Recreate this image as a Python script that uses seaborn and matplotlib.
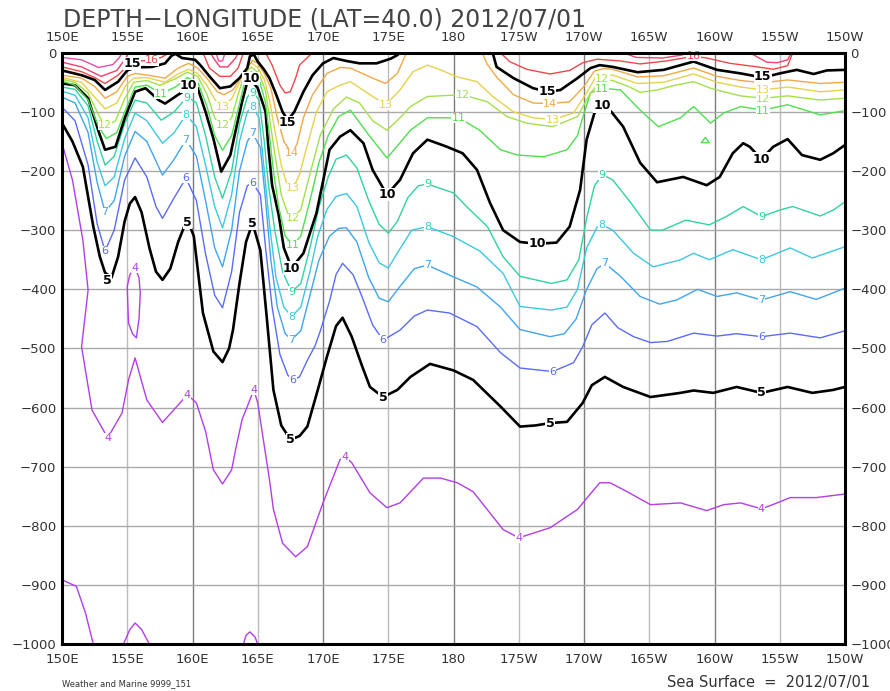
import matplotlib
matplotlib.use("Agg")
import matplotlib.pyplot as plt
import pandas as pd
import seaborn as sns

# 軸の目盛り
lon_ticks = [150, 155, 160, 165, 170, 175, 180, 185, 190, 195, 200, 205, 210]
lon_labels = ["150E", "155E", "160E", "165E", "170E", "175E", "180",
              "175W", "170W", "165W", "160W", "155W", "150W"]
depth_ticks = [0, 100, 200, 300, 400, 500, 600, 700, 800, 900, 1000]
depth_labels = ["0"] + ["\u2212%d" % d for d in depth_ticks[1:]]

# 等温線 (経度[度E], 深さ[m]) 絵から読み取り
iso_4 = [
    [(150, 153), (150.8, 215), (151.6, 317), (152.0, 401), (151.5, 497), (152.3, 604), (153.5, 651),
     (154.6, 609), (155.1, 553), (155.6, 516), (156.5, 587), (157.7, 625), (158.8, 598), (159.6, 578),
     (160.3, 592), (161.0, 640), (161.6, 705), (162.3, 729), (163.0, 705), (163.3, 671), (163.8, 620),
     (164.2, 598), (164.7, 570), (165.0, 592), (165.4, 650), (165.9, 722), (166.2, 772), (166.9, 829),
     (167.9, 852), (168.8, 835), (170.0, 761), (171.3, 688), (171.7, 683), (172.2, 693), (173.6, 744),
     (174.9, 769), (175.9, 761), (177.7, 719), (179.0, 719), (180.3, 727), (181.5, 742), (183.8, 806),
     (185.0, 820), (187.4, 803), (189.5, 772), (191.2, 727), (192.0, 727), (193.3, 742), (195.1, 764),
     (197.4, 761), (199.4, 774), (200.7, 764), (202.0, 761), (203.6, 771), (204.8, 761), (205.8, 752),
     (207.8, 752), (210.0, 746)],
    [(155.6, 364), (155.2, 375), (155.0, 395), (155.05, 430), (155.1, 457), (155.4, 475), (155.7, 482),
     (155.9, 450), (156.0, 406), (155.9, 380), (155.6, 364)],
    [(150, 891), (151.1, 902), (151.8, 947), (152.4, 1000)],
    [(154.7, 1000), (155.2, 975), (155.6, 964), (156.1, 975), (156.7, 1000)],
    [(163.9, 1000), (164.1, 985), (164.4, 979), (164.8, 988), (165.0, 1000)],
]
iso_5 = [
    [(150, 119), (150.8, 150), (151.6, 193), (152.4, 294), (152.9, 345), (153.3, 372), (153.8, 380),
     (154.3, 345), (154.8, 285), (155.2, 255), (155.6, 244), (156.1, 270), (156.7, 330), (157.2, 370),
     (157.7, 384), (158.3, 365), (158.9, 320), (159.4, 292), (159.7, 287), (160.1, 310), (160.8, 440),
     (161.6, 505), (162.3, 523), (162.8, 500), (163.1, 469), (163.6, 390), (164.1, 320), (164.6, 288),
     (165.2, 334), (165.7, 450), (166.2, 570), (166.8, 630), (167.5, 654), (168.2, 648), (168.8, 632),
     (169.6, 570), (170.3, 514), (171.0, 462), (171.5, 448), (172.2, 480), (173.0, 530), (173.6, 565),
     (174.6, 582), (175.7, 570), (176.7, 548), (178.2, 526), (180.0, 537), (181.5, 553), (183.6, 598),
     (185.1, 632), (186.3, 630), (187.4, 626), (188.7, 624), (189.9, 592), (190.6, 562), (191.6, 548),
     (193.0, 565), (195.1, 582), (197.4, 575), (198.4, 571), (199.9, 575), (201.7, 565), (203.6, 575),
     (205.6, 565), (207.5, 575), (209.1, 570), (210.0, 565)],
]
iso_6 = [
    [(150, 92), (151, 115), (152, 190), (152.7, 290), (153.3, 335), (154.0, 300), (154.8, 215),
     (155.6, 178), (156.5, 210), (157.2, 260), (157.7, 280), (158.6, 245), (159.5, 212), (160.3, 250),
     (161.0, 340), (161.7, 410), (162.3, 431), (163.0, 370), (163.6, 270), (164.2, 225), (164.6, 220),
     (165.2, 240), (165.6, 330), (166.1, 430), (166.7, 510), (167.3, 545), (167.7, 553), (168.2, 548),
     (168.8, 520), (169.4, 495), (169.8, 470), (170.5, 420), (171.0, 375), (171.5, 356), (172.3, 375),
     (173.0, 413), (173.8, 460), (174.6, 486), (175.9, 469), (177.0, 445), (178.0, 435), (179.7, 440),
     (181.8, 463), (183.6, 507), (185.1, 533), (187.6, 539), (189.2, 524), (189.9, 497), (190.6, 460),
     (191.6, 440), (192.6, 465), (193.8, 480), (195.1, 490), (196.4, 488), (198.4, 474), (200.2, 479),
     (201.7, 475), (203.6, 480), (205.8, 474), (208.1, 482), (210, 470)],
]
iso_7 = [
    [(150, 75), (151, 85), (152, 135), (152.7, 220), (153.3, 269), (154.0, 250), (154.8, 175),
     (155.6, 133), (156.5, 150), (157.7, 207), (158.6, 180), (159.5, 147), (160.3, 175), (161.0, 250),
     (161.7, 330), (162.3, 362), (163.0, 300), (163.6, 200), (164.2, 150), (164.6, 136), (165.2, 160),
     (165.6, 250), (166.0, 350), (166.5, 430), (167.1, 475), (167.6, 485), (168.3, 470), (169.0, 410),
     (169.7, 350), (170.5, 310), (171.2, 297), (171.8, 296), (172.6, 320), (173.5, 380), (174.3, 415),
     (175.0, 421), (175.9, 395), (177.0, 365), (178.0, 359), (180.0, 379), (181.8, 396), (183.6, 430),
     (185.1, 468), (187.4, 480), (188.5, 475), (189.4, 450), (190.2, 400), (191.0, 365), (191.6, 356),
     (192.8, 378), (194.3, 412), (195.8, 425), (197.1, 418), (198.7, 400), (200.2, 412), (201.7, 406),
     (203.6, 418), (205.8, 404), (207.8, 417), (210, 398)],
]
iso_8 = [
    [(150, 65), (151, 72), (152, 110), (152.7, 185), (153.3, 225), (154.0, 210), (154.8, 145),
     (155.6, 102), (156.5, 115), (157.7, 153), (158.6, 135), (159.5, 105), (160.3, 125), (161.0, 190),
     (161.7, 260), (162.3, 296), (163.0, 240), (163.6, 150), (164.2, 100), (164.6, 91), (165.1, 110),
     (165.5, 200), (165.9, 290), (166.4, 380), (167.0, 430), (167.6, 446), (168.3, 430), (169.0, 370),
     (169.6, 310), (170.3, 265), (171.0, 243), (171.8, 238), (172.6, 260), (173.5, 320), (174.3, 355),
     (175.0, 364), (175.8, 335), (176.8, 300), (178.0, 294), (180.0, 311), (182.0, 335), (183.8, 373),
     (185.1, 429), (187.5, 435), (188.7, 430), (189.5, 400), (190.2, 330), (191.0, 295), (191.4, 291),
     (192.2, 300), (193.8, 339), (195.3, 362), (197.4, 350), (198.4, 339), (199.6, 350), (201.4, 333),
     (203.6, 350), (205.8, 330), (207.5, 347), (210, 328)],
]
iso_9 = [
    [(150, 58), (151, 62), (152, 90), (152.7, 150), (153.3, 190), (154.0, 175), (154.8, 120),
     (155.6, 80), (156.5, 85), (157.6, 114), (158.6, 100), (159.6, 74), (160.3, 85), (161.0, 140),
     (161.7, 210), (162.3, 246), (163.0, 200), (163.6, 120), (164.2, 75), (164.6, 66), (165.1, 80),
     (165.5, 150), (165.8, 220), (166.3, 300), (166.9, 370), (167.6, 404), (168.3, 390), (169.0, 330),
     (169.7, 260), (170.4, 210), (171.0, 180), (171.8, 173), (172.6, 195), (173.5, 250), (174.3, 290),
     (175.0, 305), (175.7, 285), (176.5, 245), (177.3, 225), (178.0, 222), (180.0, 237), (181.0, 260),
     (182.6, 294), (183.8, 345), (185.1, 378), (187.5, 390), (188.7, 384), (189.6, 350), (190.2, 280),
     (190.8, 225), (191.4, 206), (192.2, 215), (193.6, 254), (195.1, 300), (196.0, 300), (197.8, 283),
     (199.6, 291), (200.9, 277), (202.2, 260), (203.6, 277), (205.0, 266), (206.0, 260), (208.1, 276),
     (209.1, 266), (210, 252)],
]
iso_10 = [
    [(150, 52), (151, 55), (152, 77), (152.8, 133), (153.3, 164), (154.1, 159), (154.8, 111),
     (155.6, 66), (156.4, 60), (157.4, 80), (157.9, 86), (158.9, 71), (159.7, 60), (160.4, 60),
     (161.0, 100), (161.6, 145), (162.2, 201), (162.9, 173), (163.4, 122), (163.8, 83), (164.2, 49),
     (164.5, 46), (165.0, 60), (165.6, 100), (165.8, 156), (166.1, 224), (166.6, 274), (167.0, 330),
     (167.6, 364), (168.5, 339), (169.5, 271), (170.5, 164), (171.3, 142), (172.1, 131), (173.1, 153),
     (173.8, 198), (174.9, 240), (175.9, 215), (176.9, 170), (178.0, 147), (179.5, 159), (180.7, 170),
     (181.8, 198), (182.8, 254), (183.8, 300), (185.1, 320), (186.4, 323), (187.9, 321), (188.9, 294),
     (189.7, 232), (190.2, 147), (190.8, 102), (191.4, 88), (192.1, 100), (193.0, 125), (194.3, 186),
     (195.6, 219), (197.6, 210), (199.4, 224), (200.4, 210), (201.4, 170), (202.2, 153), (202.7, 159),
     (203.6, 180), (204.5, 159), (205.6, 146), (206.7, 173), (208.1, 181), (209.1, 170), (210, 156)],
]
iso_11 = [
    [(150, 48), (151, 55), (152, 80), (152.8, 125), (153.4, 145), (154.2, 135), (154.9, 95),
     (155.6, 58), (156.5, 55), (157.6, 69), (158.7, 58), (159.6, 42), (160.4, 50), (161.1, 90),
     (161.7, 140), (162.3, 165), (163.0, 140), (163.5, 95), (164.0, 50), (164.5, 32), (165.1, 45),
     (165.6, 85), (165.9, 140), (166.2, 200), (166.6, 260), (167.1, 310), (167.7, 325), (168.3, 310),
     (169.0, 250), (169.7, 185), (170.4, 140), (171.2, 108), (172.1, 97), (173.4, 136), (174.9, 178),
     (175.8, 155), (176.7, 131), (178.0, 110), (180.4, 110), (182.0, 131), (183.6, 164), (184.9, 173),
     (186.9, 176), (188.7, 164), (189.5, 140), (189.9, 110), (190.5, 68), (191.4, 60), (192.8, 63),
     (194.3, 97), (195.7, 125), (197.4, 110), (198.4, 91), (199.7, 119), (200.7, 102), (202.0, 91),
     (203.7, 97), (205.6, 88), (208.1, 105), (210, 98)],
    [(199.0, 152), (199.3, 143), (199.6, 152), (199.0, 152)],
]
iso_12 = [
    [(150, 45), (151, 50), (152, 68), (152.8, 105), (153.3, 125), (154.1, 115), (154.8, 78),
     (155.5, 50), (156.5, 47), (157.5, 55), (158.6, 45), (159.6, 33), (160.4, 40), (161.1, 70),
     (161.7, 110), (162.3, 130), (163.0, 110), (163.5, 70), (164.0, 35), (164.5, 24), (165.1, 35),
     (165.6, 65), (165.9, 110), (166.3, 170), (166.8, 240), (167.3, 272), (167.7, 280), (168.3, 265),
     (169.0, 205), (169.8, 139), (170.8, 95), (171.8, 75), (172.8, 85), (173.8, 115), (174.9, 131),
     (175.9, 110), (176.7, 91), (178.0, 74), (180.7, 71), (182.6, 83), (184.1, 108), (185.6, 119),
     (187.6, 125), (189.5, 108), (190.5, 68), (191.4, 45), (192.2, 47), (193.5, 58), (194.3, 67),
     (195.6, 63), (197.0, 55), (198.4, 49), (199.7, 60), (200.7, 66), (202.0, 73), (203.7, 77),
     (205.6, 73), (208.1, 80), (210, 77)],
]
iso_13 = [
    [(150, 42), (151.5, 50), (152.5, 75), (153.3, 95), (154.2, 85), (154.9, 55), (155.5, 43),
     (156.5, 42), (157.9, 50), (158.9, 36), (159.7, 28), (160.4, 35), (161.1, 55), (161.8, 82),
     (162.3, 91), (163.0, 78), (163.6, 50), (164.1, 28), (164.5, 17), (165.0, 25), (165.5, 45),
     (165.9, 80), (166.3, 130), (166.8, 190), (167.2, 220), (167.7, 229), (168.2, 206), (168.8, 156),
     (169.5, 100), (170.3, 66), (171.3, 55), (172.1, 49), (173.4, 68), (174.8, 88), (175.9, 63),
     (176.9, 32), (178.0, 21), (179.0, 29), (180.3, 41), (181.8, 49), (183.0, 74), (184.6, 100),
     (186.1, 110), (187.6, 113), (189.2, 102), (190.2, 68), (191.0, 37), (192.2, 38), (194.1, 52),
     (196.1, 50), (198.4, 36), (200.2, 50), (202.0, 58), (203.7, 63), (205.6, 58), (208.1, 66),
     (210, 63)],
]
iso_14 = [
    [(150, 38), (151.5, 43), (152.5, 57), (153.3, 77), (154.2, 66), (155.0, 40), (155.6, 35),
     (156.6, 38), (157.9, 43), (158.9, 26), (159.7, 18), (160.4, 26), (161.1, 43), (161.9, 66),
     (162.4, 71), (163.1, 63), (163.8, 38), (164.6, 13), (165.0, 18), (165.5, 35), (166.0, 60),
     (166.5, 110), (167.0, 150), (167.6, 170), (168.0, 155), (168.5, 110), (169.2, 71), (170.3, 35),
     (171.3, 25), (172.1, 26), (173.8, 43), (174.8, 52), (175.7, 35), (176.1, 15), (176.4, 0)],
    [(182.2, 0), (182.6, 20), (183.3, 41), (184.6, 71), (186.1, 85), (187.4, 86), (188.9, 83),
     (190.0, 57), (190.8, 31), (191.5, 27), (192.2, 28), (194.1, 41), (196.1, 39), (198.4, 26),
     (200.2, 40), (202.0, 47), (203.7, 51), (205.6, 46), (208.1, 52), (210, 50)],
]
iso_15 = [
    [(150, 30), (151.5, 38), (152.5, 46), (153.3, 63), (154.3, 49), (155.0, 30), (155.6, 25),
     (156.9, 24), (157.9, 18), (158.4, 5), (158.7, 2), (159.2, 9), (160.2, 12), (160.6, 21),
     (161.3, 40), (162.1, 60), (162.9, 57), (163.6, 43), (164.2, 26), (164.4, 6), (164.7, 3),
     (165.0, 15), (165.5, 29), (165.9, 43), (166.4, 70), (166.9, 100), (167.3, 114), (167.8, 100),
     (168.5, 66), (169.2, 38), (170.0, 18), (170.8, 9), (171.8, 14), (172.8, 18), (174.1, 18),
     (175.2, 10), (175.7, 4), (175.9, 0)],
    [(183.0, 0), (183.3, 24), (184.6, 43), (186.1, 60), (187.2, 66), (188.2, 63), (189.5, 43),
     (190.5, 26), (191.2, 21), (192.2, 24), (194.1, 33), (196.1, 29), (198.4, 15), (200.2, 29),
     (202.0, 35), (203.7, 42), (205.0, 35), (206.3, 29), (207.6, 36), (208.6, 30), (210, 29)],
]
iso_16 = [
    [(150, 24), (151.5, 32), (152.5, 42), (153.3, 52), (154.3, 38), (155.0, 22), (155.8, 14),
     (156.9, 13), (157.6, 8), (158.0, 3), (158.1, 0)],
    [(160.8, 0), (161.3, 26), (162.1, 40), (162.9, 40), (163.5, 26), (163.9, 0)],
    [(165.6, 0), (166.1, 21), (166.7, 55), (167.1, 68), (167.5, 66), (167.9, 43), (168.2, 21),
     (169.0, 4), (169.2, 0)],
    [(183.6, 0), (184.3, 15), (185.6, 28), (187.4, 36), (188.9, 30), (189.9, 17), (191.0, 11),
     (192.8, 14), (194.3, 19), (196.3, 14), (198.4, 6), (199.4, 9), (201.2, 18), (203.3, 24),
     (204.5, 28), (205.6, 22), (206.0, 0)],
]
iso_17 = [
    [(150, 16), (151.5, 24), (153.0, 40), (154.2, 30), (154.8, 12), (155.1, 0)],
    [(161.4, 0), (161.6, 9), (162.1, 24), (162.7, 24), (163.3, 9), (163.5, 0)],
    [(193.0, 0), (194.0, 8), (196.0, 9), (197.5, 4), (197.8, 0)],
    [(202.7, 0), (204.0, 16), (204.8, 17), (205.6, 12), (205.9, 0)],
]
iso_18 = [
    [(150, 8), (151.5, 12), (152.8, 25), (153.9, 20), (154.4, 8), (154.6, 0)],
    [(161.8, 0), (162.0, 14), (162.3, 14), (162.5, 0)],
]

# ラベル位置
lab_4 = [(155.6, 364), (153.5, 651), (159.6, 578), (164.7, 570), (171.7, 683), (185.0, 820), (203.6, 771)]
lab_5 = [(153.5, 385), (159.6, 287), (164.6, 288), (167.5, 654), (174.6, 582), (187.4, 626), (203.6, 575)]
lab_6 = [(153.3, 335), (159.5, 212), (164.6, 220), (167.7, 553), (174.6, 486), (187.6, 539), (203.6, 480)]
lab_7 = [(153.3, 269), (159.5, 147), (164.6, 136), (167.6, 485), (178.0, 359), (191.6, 356), (203.6, 418)]
lab_8 = [(159.5, 105), (164.6, 91), (167.6, 446), (178.0, 294), (191.4, 291), (203.6, 350)]
lab_9 = [(159.6, 76), (164.6, 68), (167.6, 404), (178.0, 222), (191.4, 206), (203.6, 277)]
lab_10 = [(159.7, 56), (164.5, 44), (167.6, 364), (174.9, 240), (186.4, 323), (191.4, 90), (203.6, 180)]
lab_11 = [(157.6, 69), (167.7, 325), (180.4, 110), (191.4, 62), (203.7, 99)]
lab_12 = [(153.3, 122), (162.3, 122), (167.7, 280), (180.7, 71), (191.4, 44), (203.7, 79)]
lab_13 = [(162.3, 91), (167.7, 229), (174.8, 88), (187.6, 113), (203.7, 63)]
lab_14 = [(167.6, 170), (187.4, 86)]
lab_15 = [(155.4, 18), (167.3, 118), (187.2, 66), (203.7, 41)]
lab_16 = [(156.9, 13), (198.4, 6)]

colors = {4: "#b33ee6", 5: "black", 6: "#5a6cf5", 7: "#3fa5ef", 8: "#3cc8e0", 9: "#2fd3a0",
          10: "black", 11: "#4ee04e", 12: "#a4e04a", 13: "#e6d24e", 14: "#f0a848",
          15: "black", 16: "#f04848", 17: "#f0406e", 18: "#e050a8"}

levels = {4: (iso_4, lab_4), 5: (iso_5, lab_5), 6: (iso_6, lab_6), 7: (iso_7, lab_7),
          8: (iso_8, lab_8), 9: (iso_9, lab_9), 10: (iso_10, lab_10), 11: (iso_11, lab_11),
          12: (iso_12, lab_12), 13: (iso_13, lab_13), 14: (iso_14, lab_14), 15: (iso_15, lab_15),
          16: (iso_16, lab_16), 17: (iso_17, []), 18: (iso_18, [])}

sns.set_style("white")
plt.rcParams["font.family"] = ["DejaVu Sans"]

fig = plt.figure(figsize=(8.9, 6.91), dpi=100)
ax = fig.add_axes([62 / 890, 46.7 / 691, 783 / 890, 591.6 / 691])

# グリッド
for lo in lon_ticks:
    ax.axvline(lo, color="#7c7c7c" if lo % 10 == 0 else "#bcbcbc", lw=1.0, zorder=1)
for d in depth_ticks:
    ax.axhline(-d, color="#aaaaaa", lw=1.0, zorder=1)

# 等温線を描く
rows = []
for lev, (segs, _) in levels.items():
    for k, seg in enumerate(segs):
        for i, (lo, d) in enumerate(seg):
            rows.append({"level": lev, "seg": k, "i": i, "lon": lo, "depth": -d})
df = pd.DataFrame(rows)

for lev, sub in df.groupby("level"):
    thick = lev % 5 == 0
    sns.lineplot(data=sub, x="lon", y="depth", units="seg", estimator=None, sort=False,
                 color=colors[lev], lw=1.9 if thick else 1.0, ax=ax, zorder=3,
                 solid_joinstyle="round")

# ラベル
for lev, (_, labs) in levels.items():
    thick = lev % 5 == 0
    for lo, d in labs:
        ax.text(lo, -d, str(lev), color=colors[lev], ha="center", va="center",
                fontsize=9 if thick else 8, fontweight="bold" if thick else "normal",
                bbox=dict(boxstyle="square,pad=0.02", fc="white", ec="none"), zorder=5)

ax.set_xlim(150, 210)
ax.set_ylim(-1000, 0)
ax.set_xticks(lon_ticks)
ax.set_xticklabels(lon_labels)
ax.set_yticks([-d for d in depth_ticks])
ax.set_yticklabels(depth_labels)
ax.set_xlabel("")
ax.set_ylabel("")
ax.tick_params(axis="both", length=0, labelsize=9.5, labelcolor="#333333",
               top=True, labeltop=True, right=True, labelright=True)
ax.tick_params(axis="x", pad=6)
ax.tick_params(axis="y", pad=4)
for sp in ax.spines.values():
    sp.set_visible(True)
    sp.set_color("black")
    sp.set_linewidth(2.2)
    sp.set_zorder(6)

fig.text(63 / 890, 1 - 20 / 691, "DEPTH\u2212LONGITUDE (LAT=40.0) 2012/07/01",
         ha="left", va="center", fontsize=17, color="#444444")
fig.text(62 / 890, 1 - 684 / 691, "Weather and Marine 9999_151",
         ha="left", va="center", fontsize=6, color="#333333")
fig.text(870 / 890, 1 - 683 / 691, "Sea Surface  =  2012/07/01",
         ha="right", va="center", fontsize=10.5, color="#333333")

fig.savefig("out.png", dpi=100)
